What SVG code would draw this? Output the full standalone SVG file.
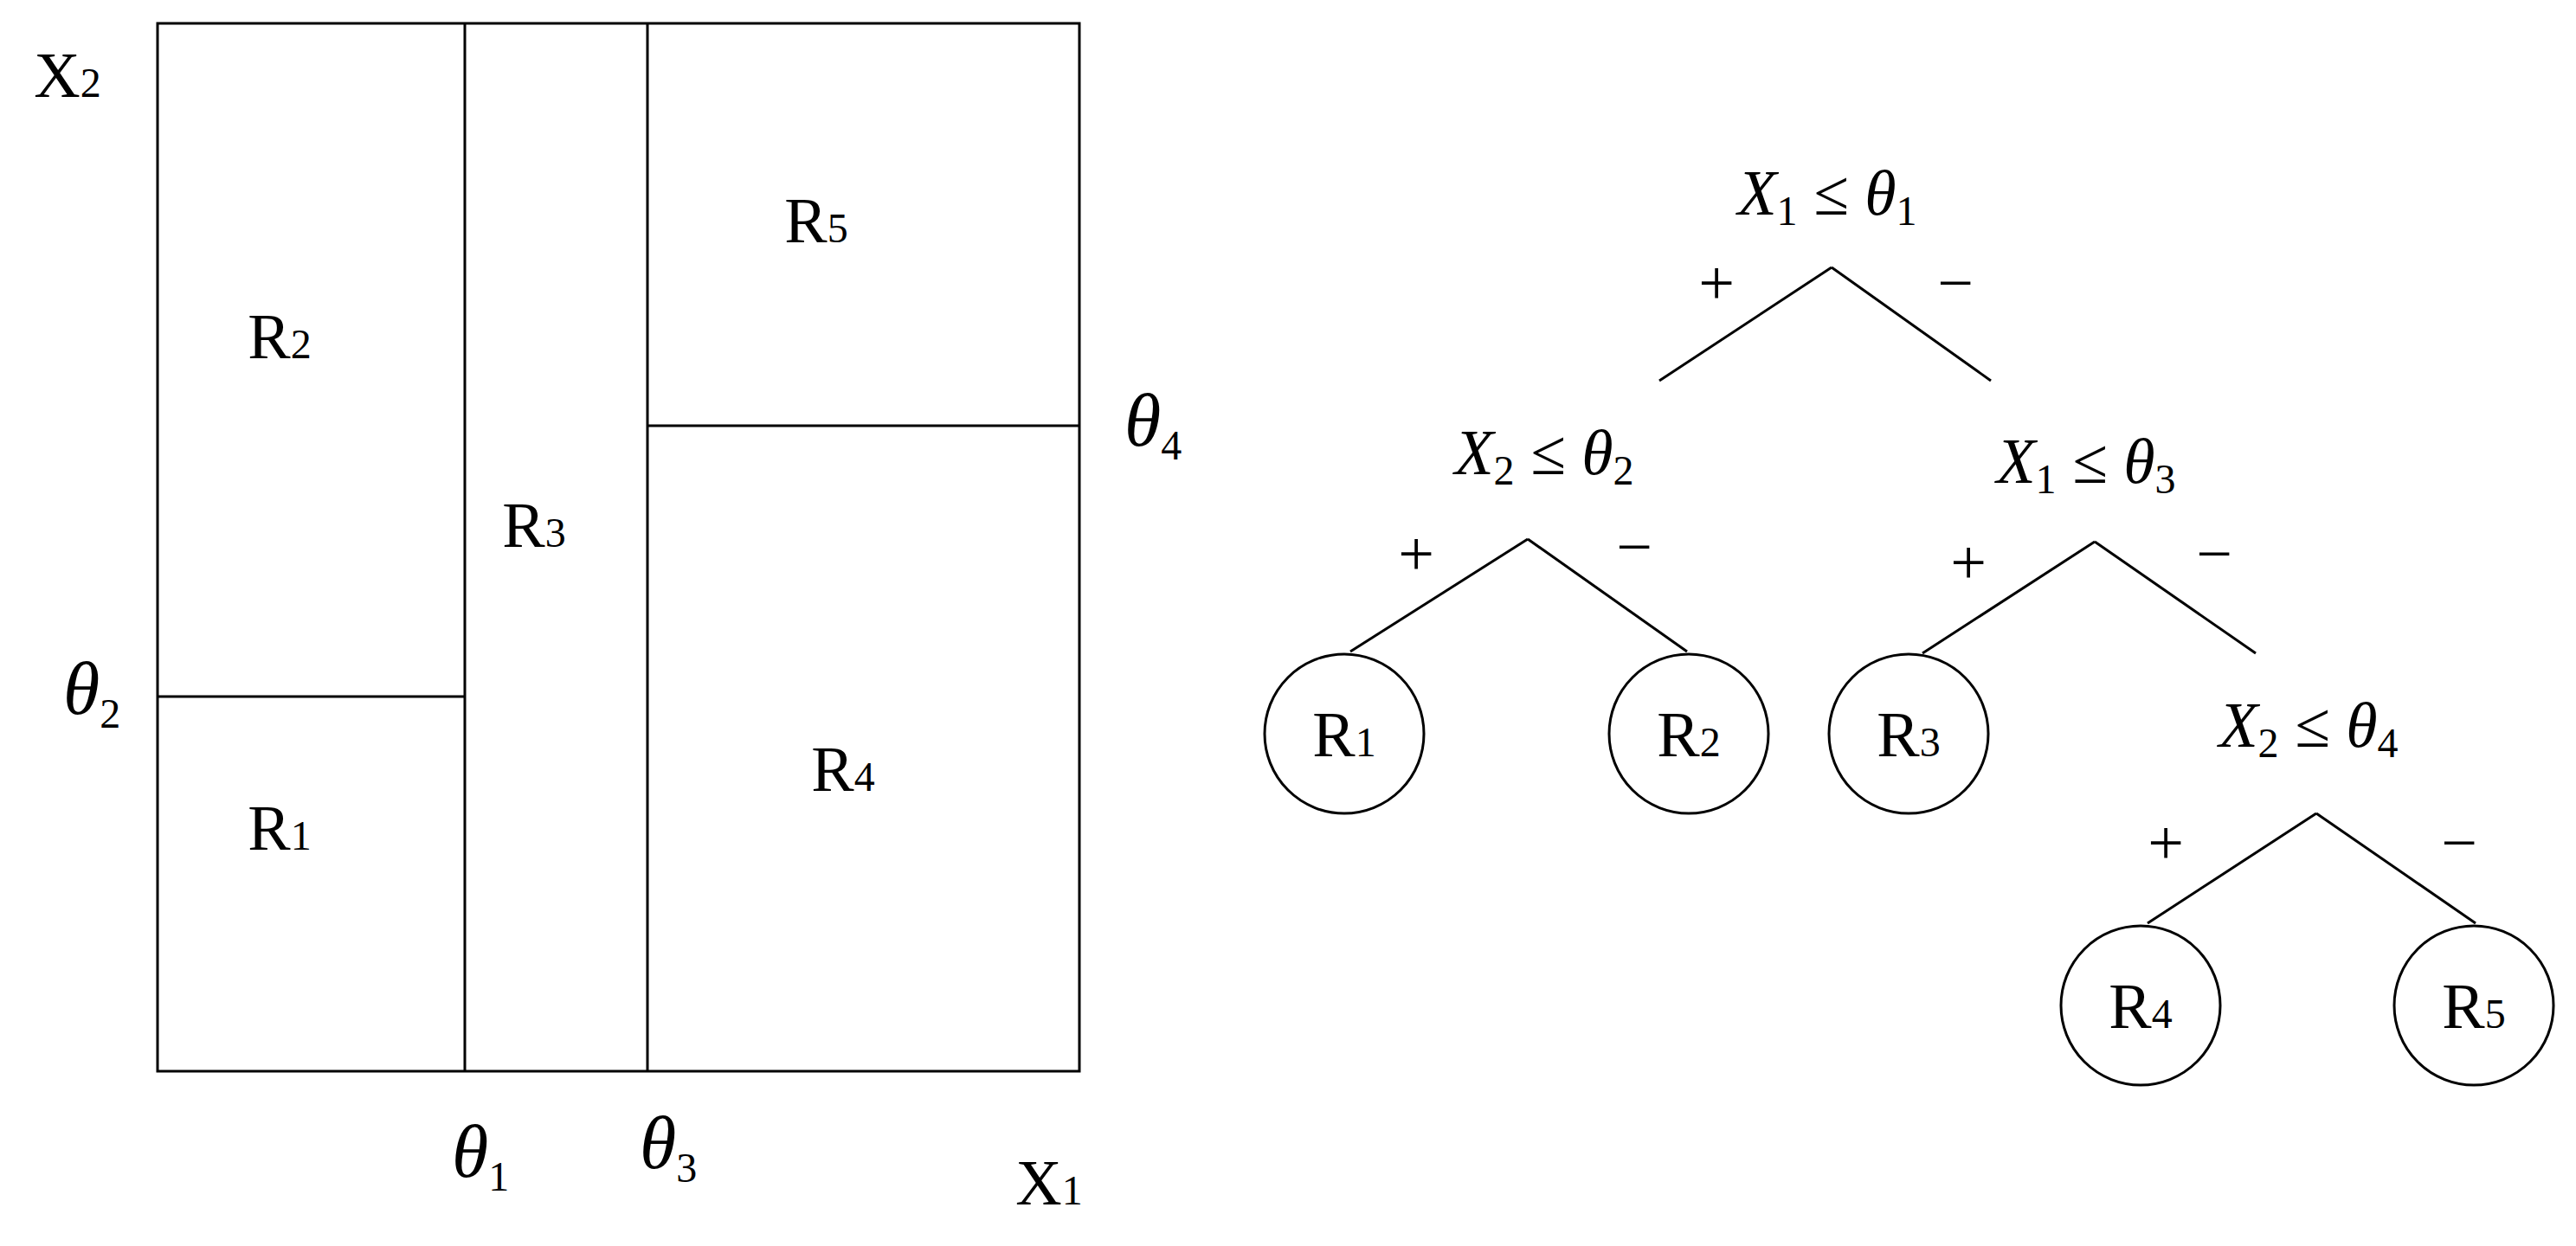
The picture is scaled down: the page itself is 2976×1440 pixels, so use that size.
<svg xmlns="http://www.w3.org/2000/svg" width="2976" height="1440" viewBox="0 0 2976 1440">
<style>
text{font-family:"Liberation Serif","Times New Roman",serif;font-size:74px;fill:#000;text-anchor:middle}
.s{font-size:48px;font-style:normal}
.i{font-style:italic}
.t{font-size:86px}
line,rect,circle{stroke:#000;stroke-width:3;fill:none}
</style>
<rect width="2976" height="1440" style="fill:#fff;stroke:none"/>
<g id="plot">
<rect x="182" y="27" width="1065" height="1211"/>
<line x1="537" y1="27" x2="537" y2="1238"/>
<line x1="748" y1="27" x2="748" y2="1238"/>
<line x1="182" y1="805" x2="537" y2="805"/>
<line x1="748" y1="492" x2="1247" y2="492"/>
<text x="78" y="112">X<tspan class="s">2</tspan></text>
<text x="1212" y="1392">X<tspan class="s">1</tspan></text>
<text x="106" y="825" class="t"><tspan class="i">θ</tspan><tspan class="s" dy="16">2</tspan></text>
<text x="555" y="1360" class="t"><tspan class="i">θ</tspan><tspan class="s" dy="16">1</tspan></text>
<text x="772" y="1350" class="t"><tspan class="i">θ</tspan><tspan class="s" dy="16">3</tspan></text>
<text x="1332" y="515" class="t"><tspan class="i">θ</tspan><tspan class="s" dy="16">4</tspan></text>
<text x="323" y="414">R<tspan class="s">2</tspan></text>
<text x="617" y="632">R<tspan class="s">3</tspan></text>
<text x="943" y="280">R<tspan class="s">5</tspan></text>
<text x="974" y="914">R<tspan class="s">4</tspan></text>
<text x="323" y="982">R<tspan class="s">1</tspan></text>
</g>
<g id="connectors">
<line x1="2116" y1="309" x2="1917" y2="440"/><line x1="2116" y1="309" x2="2300" y2="440"/>
<line x1="1765" y1="623" x2="1560" y2="753"/><line x1="1765" y1="623" x2="1949" y2="753"/>
<line x1="2420" y1="626" x2="2221" y2="755"/><line x1="2420" y1="626" x2="2606" y2="755"/>
<line x1="2676" y1="940" x2="2481" y2="1067"/><line x1="2676" y1="940" x2="2860" y2="1067"/>
<text x="1983" y="352">+</text><text x="2259" y="352">−</text>
<text x="1636" y="665">+</text><text x="1888" y="657">−</text>
<text x="2274" y="675">+</text><text x="2558" y="665">−</text>
<text x="2502" y="999">+</text><text x="2841" y="999">−</text>
</g>
<g id="n1"><text x="2111" y="248" class="i">X<tspan class="s" dy="12">1</tspan><tspan dy="-12"> ≤ θ</tspan><tspan class="s" dy="12">1</tspan></text></g>
<g id="n2"><text x="1784" y="548" class="i">X<tspan class="s" dy="12">2</tspan><tspan dy="-12"> ≤ θ</tspan><tspan class="s" dy="12">2</tspan></text></g>
<g id="n3"><text x="2410" y="558" class="i">X<tspan class="s" dy="12">1</tspan><tspan dy="-12"> ≤ θ</tspan><tspan class="s" dy="12">3</tspan></text></g>
<g id="n4"><text x="2667" y="863" class="i">X<tspan class="s" dy="12">2</tspan><tspan dy="-12"> ≤ θ</tspan><tspan class="s" dy="12">4</tspan></text></g>
<g id="r1"><circle cx="1553" cy="848" r="92"/><text x="1553" y="874">R<tspan class="s">1</tspan></text></g>
<g id="r2"><circle cx="1951" cy="848" r="92"/><text x="1951" y="874">R<tspan class="s">2</tspan></text></g>
<g id="r3"><circle cx="2205" cy="848" r="92"/><text x="2205" y="874">R<tspan class="s">3</tspan></text></g>
<g id="r4"><circle cx="2473" cy="1162" r="92"/><text x="2473" y="1188">R<tspan class="s">4</tspan></text></g>
<g id="r5"><circle cx="2858" cy="1162" r="92"/><text x="2858" y="1188">R<tspan class="s">5</tspan></text></g>
</svg>
